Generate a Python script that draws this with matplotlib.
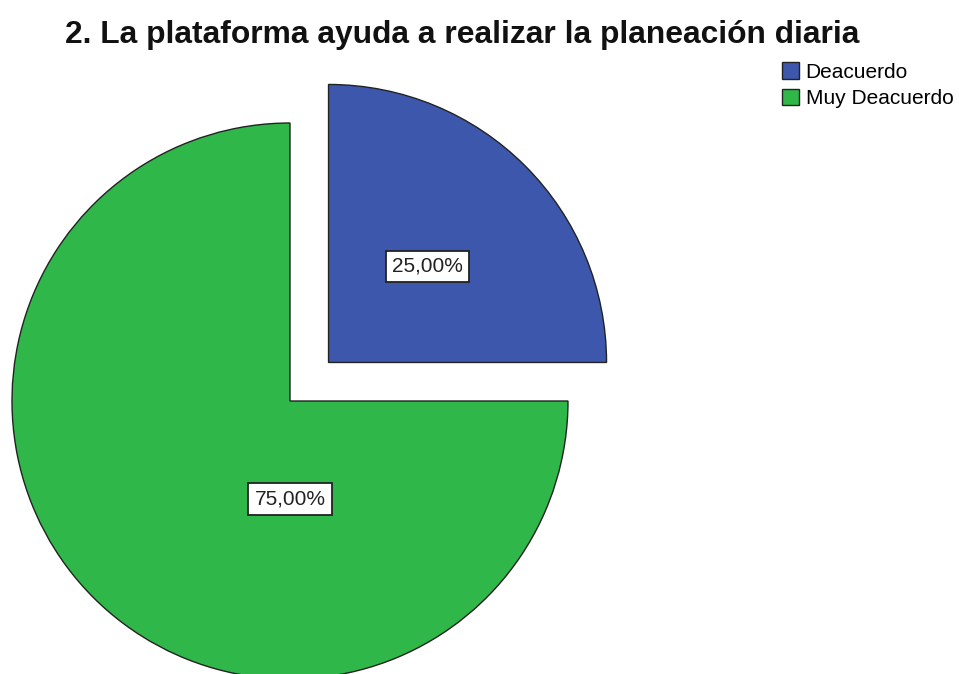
import matplotlib.pyplot as plt

plt.rcParams['font.family'] = ['Liberation Sans', 'DejaVu Sans']

# Datos
categorias = ["Deacuerdo", "Muy Deacuerdo"]
porcentajes = [25.0, 75.0]
colores = ["#3d57ac", "#2fb849"]
titulo = "2. La plataforma ayuda a realizar la planeación diaria"

fig = plt.figure(figsize=(9.59, 6.74), dpi=100)
ax = fig.add_axes([0, 0, 1, 1])

radio = 278
centro = (290, 273)
wedges, _ = ax.pie(porcentajes, colors=colores, startangle=90, counterclock=False,
                   explode=[54.5, 0], radius=radio, center=centro,
                   wedgeprops=dict(edgecolor="#222222", linewidth=1.0), frame=True)
ax.set_xlim(0, 959)
ax.set_ylim(0, 674)
ax.set_aspect("equal")
ax.axis("off")

# Etiquetas de porcentaje
offsets = [(99, 96), (0, -98)]
for w, p, (dx, dy) in zip(wedges, porcentajes, offsets):
    cx, cy = w.center
    ax.text(cx + dx, cy + dy, f"{p:.2f}%".replace(".", ","), ha="center", va="center",
            fontsize=15, color="#222222",
            bbox=dict(boxstyle="square,pad=0.3", fc="white", ec="#222222", lw=1.3))

fig.text(0.482, (674 - 43) / 674, titulo, ha="center", va="baseline",
         fontsize=22.9, fontweight="bold", color="#111111")

leg = ax.legend(wedges, categorias, loc="upper left", bbox_to_anchor=(0.815, 0.908),
                frameon=False, fontsize=15, handlelength=0.85, handleheight=0.85,
                handletextpad=0.3, labelspacing=0.35, borderaxespad=0, borderpad=0)

fig.savefig("out.png", dpi=100)
